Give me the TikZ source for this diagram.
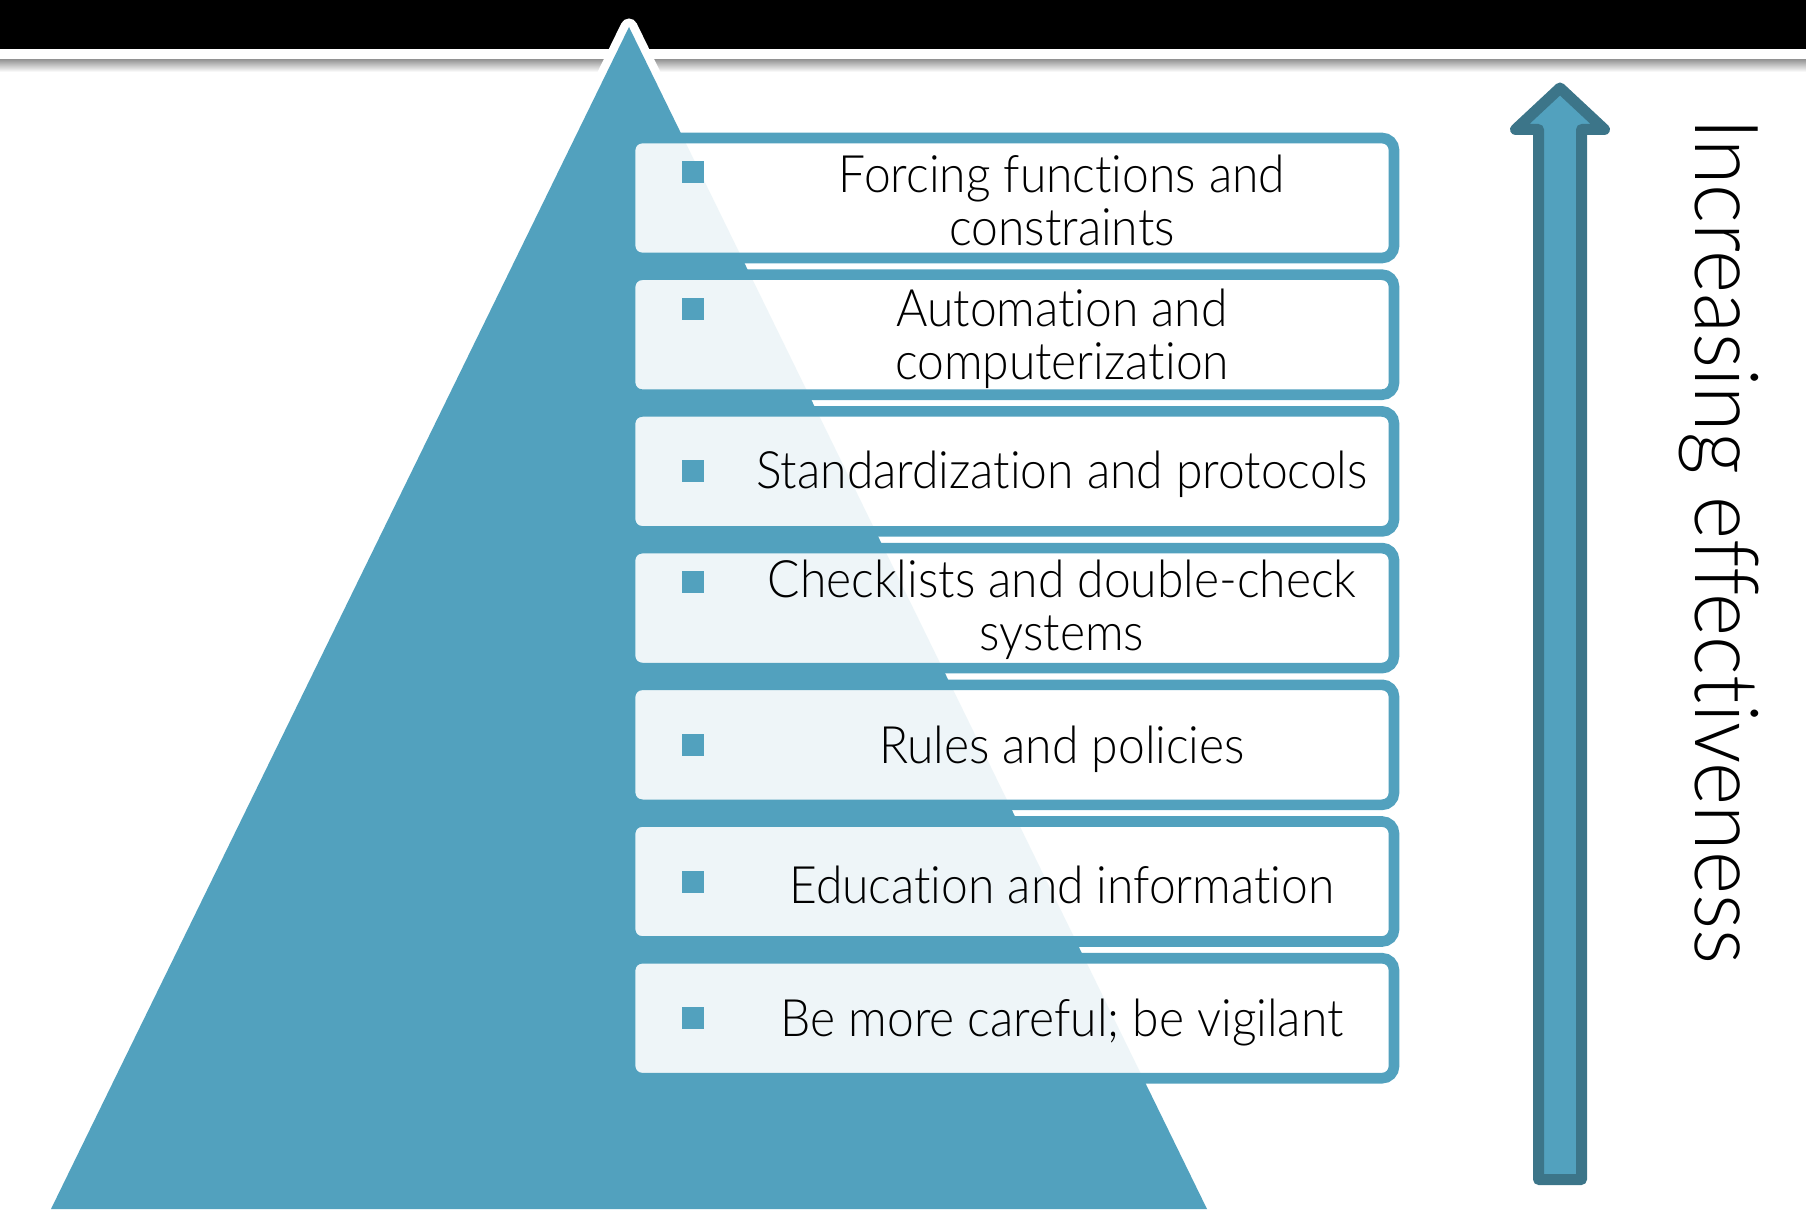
\documentclass[tikz,border=0pt]{standalone}
\usepackage{fontspec}
\usepackage{tikz}
\setmainfont{Lato Light}[FakeStretch=0.93,Ligatures=NoCommon]
\definecolor{pyrteal}{HTML}{52A1BE}
\definecolor{pyrdark}{HTML}{3C7589}
\definecolor{pyrshade}{HTML}{9A9A9A}

\begin{document}
\begin{tikzpicture}[
    x=1pt,y=-1pt,
    lvl/.style    = {draw=pyrteal, line width=10.6pt, rounded corners=12pt,
                     fill=white, fill opacity=0.9, text opacity=1,
                     minimum width=764pt, minimum height=120pt, inner sep=0pt},
    bul/.style    = {fill=pyrteal, minimum size=22pt, inner sep=0pt},
    txt/.style    = {font=\fontsize{51.6}{53}\selectfont, align=center,
                     inner sep=0pt},
    updown/.style = {font=\fontsize{88.6}{90}\selectfont, rotate=-90,
                     anchor=base, inner sep=0pt},
  ]
  \useasboundingbox (0,0) rectangle (1806,1222);

  \fill[black] (0,0) rectangle (1806,49);
  \shade[top color=pyrshade, bottom color=white] (0,60) rectangle (1806,72);

  % pyramid
  \draw[white, line width=17pt, line join=round]
       (629,27) -- (51,1209) -- (1207,1209) -- cycle;
  \fill[pyrteal] (629,27) -- (51,1209) -- (1207,1209) -- cycle;

  % levels, most effective on top
  \node[lvl] (l1) at (1012, 198.0) {};
  \node[lvl] (l2) at (1012, 334.7) {};
  \node[lvl] (l3) at (1012, 471.4) {};
  \node[lvl] (l4) at (1012, 608.1) {};
  \node[lvl] (l5) at (1012, 744.8) {};
  \node[lvl] (l6) at (1012, 881.5) {};
  \node[lvl] (l7) at (1012,1018.2) {};

  \node[bul] (b1) at (693, 172.0) {};
  \node[bul] (b2) at (693, 308.7) {};
  \node[bul] (b3) at (693, 471.4) {};
  \node[bul] (b4) at (693, 582.1) {};
  \node[bul] (b5) at (693, 744.8) {};
  \node[bul] (b6) at (693, 881.5) {};
  \node[bul] (b7) at (693,1018.2) {};

  \node[txt] (t1) at (1062, 200.0) {Forcing functions and\\constraints};
  \node[txt] (t2) at (1062, 338.7) {Automation and\\computerization};
  \node[txt] (t3) at (1062, 474.4) {Standardization and protocols};
  \node[txt] (t4) at (1062, 610.1) {Checklists and double-check\\systems};
  \node[txt] (t5) at (1062, 748.8) {Rules and policies};
  \node[txt] (t6) at (1062, 884.5) {Education and information};
  \node[txt] (t7) at (1062,1022.2) {Be more careful; be vigilant};

  % effectiveness arrow
  \draw[pyrdark, fill=pyrteal, line width=11pt, line join=round]
       (1538.5,1179.5) -- (1538.5,129.5) -- (1515.5,129.5) -- (1560,88)
       -- (1604.5,129.5) -- (1581.5,129.5) -- (1581.5,1179.5) -- cycle;
  \node[updown] (eff) at (1695.5,541) {Increasing effectiveness};

\end{tikzpicture}
\end{document}
